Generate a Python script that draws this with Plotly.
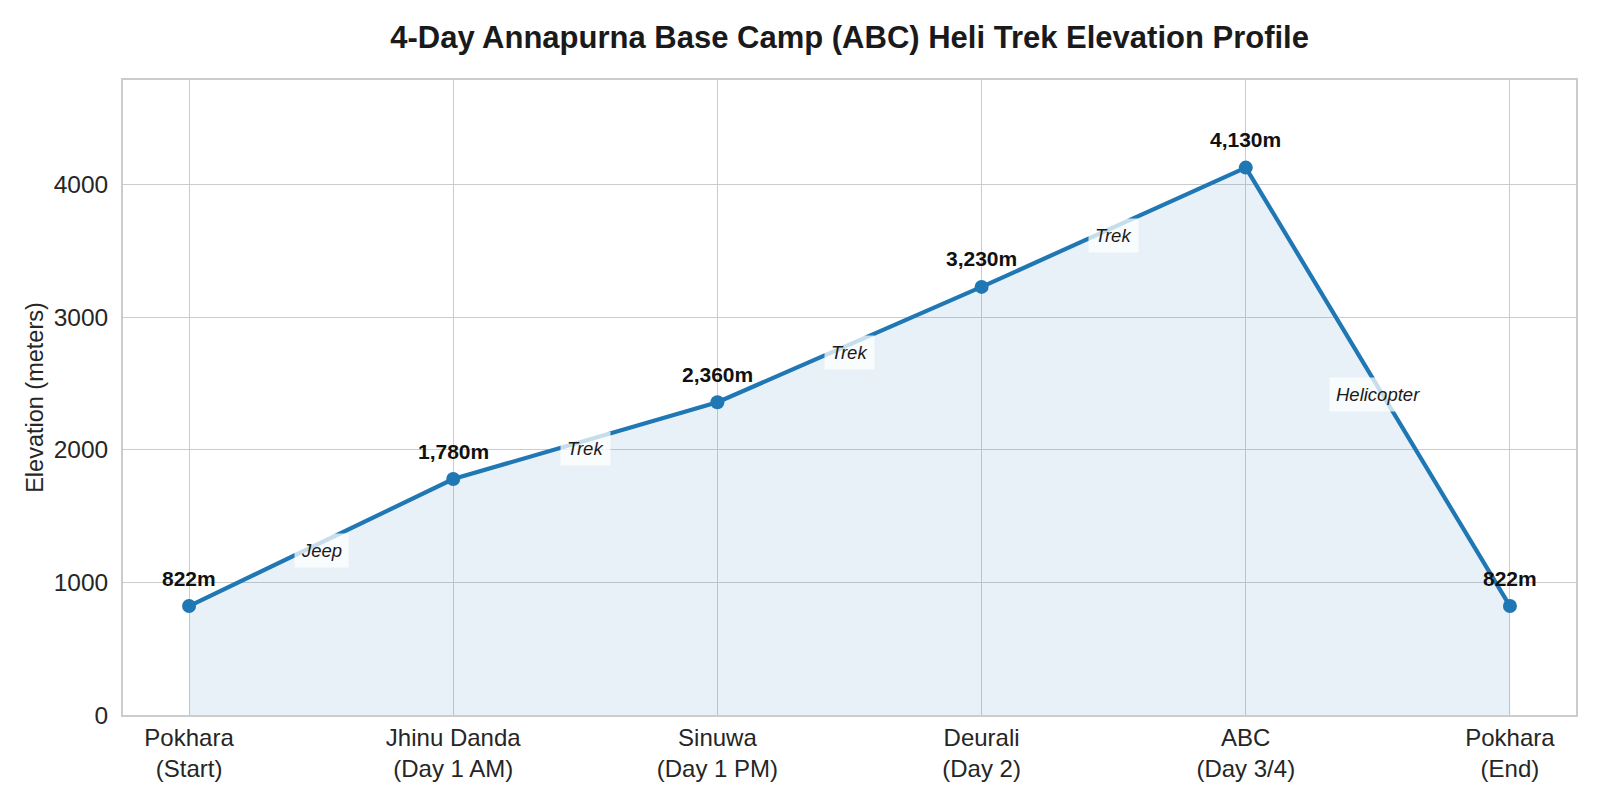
import plotly.graph_objects as go

# ---- data ----
stops = ["Pokhara", "Jhinu Danda", "Sinuwa", "Deurali", "ABC", "Pokhara"]
stages = ["(Start)", "(Day 1 AM)", "(Day 1 PM)", "(Day 2)", "(Day 3/4)", "(End)"]
elevations = [822, 1780, 2360, 3230, 4130, 822]
modes = ["Jeep", "Trek", "Trek", "Trek", "Helicopter"]
y_ticks = [0, 1000, 2000, 3000, 4000]

title = "4-Day Annapurna Base Camp (ABC) Heli Trek Elevation Profile"
y_title = "Elevation (meters)"

FONT = "Liberation Sans, Arial, sans-serif"
BLUE = "#1f77b4"
GRID = "#cccccc"

idx = list(range(len(stops)))
tick_text = [f"{s}<br>{g}" for s, g in zip(stops, stages)]

fig = go.Figure()
fig.add_trace(go.Scatter(
    x=idx, y=elevations,
    mode="lines+markers",
    line=dict(color=BLUE, width=4.2),
    marker=dict(color=BLUE, size=14),
    fill="tozeroy",
    fillcolor="rgba(31,119,180,0.1)",
    hoverinfo="skip",
    showlegend=False,
))

annotations = []
for i, e in zip(idx, elevations):
    annotations.append(dict(
        x=i, y=e, xref="x", yref="y",
        text=f"<b>{e:,}m</b>", showarrow=False,
        yanchor="middle", xanchor="center", yshift=28,
        font=dict(family=FONT, size=21, color="#111111"),
    ))

for i, m in enumerate(modes):
    xm = (idx[i] + idx[i + 1]) / 2
    ym = (elevations[i] + elevations[i + 1]) / 2
    annotations.append(dict(
        x=xm, y=ym, xref="x", yref="y",
        text=f"<i>{m}</i>", showarrow=False,
        yanchor="middle", xanchor="center", yshift=-8,
        bgcolor="rgba(255,255,255,0.75)", borderpad=6,
        font=dict(family=FONT, size=18.5, color="#1a1a1a"),
    ))

fig.update_layout(
    width=1600, height=800,
    paper_bgcolor="white", plot_bgcolor="white",
    margin=dict(l=123, r=24, t=80, b=85),
    title=dict(
        text=f"<b>{title}</b>",
        x=0.531, xanchor="center",
        y=1 - 37 / 800, yanchor="middle", yref="container",
        font=dict(family=FONT, size=31, color="#1a1a1a"),
    ),
    font=dict(family=FONT, color="#262626"),
    annotations=annotations,
)

fig.update_xaxes(
    range=[-0.25, 5.25],
    tickmode="array", tickvals=idx, ticktext=tick_text,
    tickfont=dict(family=FONT, size=24, color="#262626"),
    showgrid=True, gridcolor=GRID, gridwidth=1.4,
    showline=True, linecolor=GRID, linewidth=1.8, mirror=True,
    zeroline=False, ticks="", ticklabelstandoff=0,
)
fig.update_yaxes(
    range=[0, max(elevations) * 1.16],
    tickmode="array", tickvals=y_ticks, ticktext=[str(v) for v in y_ticks],
    tickfont=dict(family=FONT, size=24.5, color="#262626"),
    title=dict(text=y_title, font=dict(family=FONT, size=23.5, color="#262626"), standoff=3),
    showgrid=True, gridcolor=GRID, gridwidth=1.4,
    showline=True, linecolor=GRID, linewidth=1.8, mirror=True,
    zeroline=False, ticks="", ticklabelstandoff=8,
)

fig.write_html("out.html")
